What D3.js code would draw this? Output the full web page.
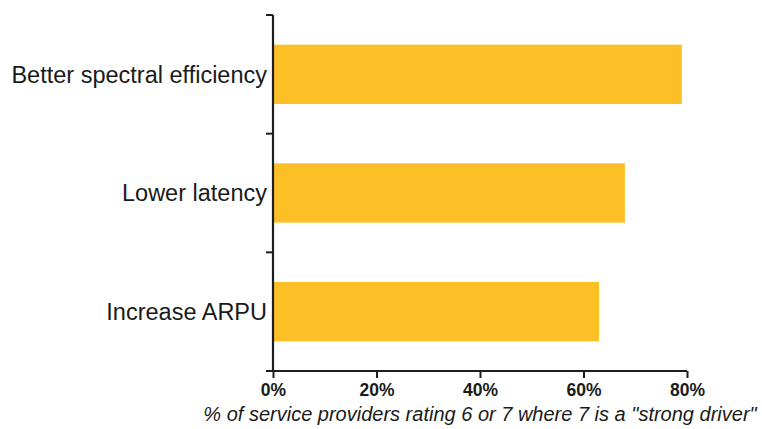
<!DOCTYPE html>
<html>
<head>
<meta charset="utf-8">
<script src="https://cdn.jsdelivr.net/npm/d3@7"></script>
<style>
  html, body { margin: 0; padding: 0; background: #fff; }
  svg { display: block; }
</style>
</head>
<body>
<svg id="chart" width="762" height="429"></svg>
<script>
// Drivers for service providers, share rating 6 or 7
const categories = ["Better spectral efficiency", "Lower latency", "Increase ARPU"];
const values = [79, 68, 63];
const xTicks = [0, 20, 40, 60, 80];
const xTitle = "% of service providers rating 6 or 7 where 7 is a \"strong driver\"";

const svg = d3.select("#chart");
const plot = { left: 273, right: 687, top: 15, bottom: 371 };
const font = "'Liberation Sans', Arial, sans-serif";

const x = d3.scaleLinear().domain([0, 80]).range([plot.left, plot.right]);
const y = d3.scaleBand().domain(categories).range([plot.top, plot.bottom])
  .paddingInner(0.5).paddingOuter(0.25);

// bars
svg.append("g").selectAll("rect")
  .data(categories)
  .join("rect")
  .attr("x", x(0))
  .attr("y", d => y(d))
  .attr("width", (d, i) => x(values[i]) - x(0))
  .attr("height", y.bandwidth())
  .attr("fill", "#FCBF26");

const axisColor = "#1e1e1e";

// x axis
const xAxis = svg.append("g")
  .attr("transform", `translate(0,${plot.bottom})`)
  .call(d3.axisBottom(x).tickValues(xTicks).tickSize(7).tickPadding(6)
    .tickFormat(d => d + "%"));
xAxis.select(".domain").attr("stroke", axisColor).attr("stroke-width", 2.2)
  .attr("d", `M${plot.left},0H${plot.right}`);
xAxis.selectAll(".tick line").attr("stroke", axisColor).attr("stroke-width", 2);
xAxis.selectAll(".tick text")
  .attr("fill", "#1a1a1a")
  .style("font-family", font)
  .style("font-size", "17.5px")
  .style("font-weight", "bold");

// y axis: ticks at band boundaries
const step = y.step();
const boundaries = [0, 1, 2, 3].map(i => plot.top + i * step);
const yAxis = svg.append("g");
yAxis.append("line")
  .attr("x1", plot.left).attr("x2", plot.left)
  .attr("y1", plot.top).attr("y2", plot.bottom)
  .attr("stroke", axisColor).attr("stroke-width", 2.2);
yAxis.selectAll("line.tk")
  .data(boundaries)
  .join("line")
  .attr("class", "tk")
  .attr("x1", plot.left - 7).attr("x2", plot.left)
  .attr("y1", d => d).attr("y2", d => d)
  .attr("stroke", axisColor).attr("stroke-width", 2);

yAxis.selectAll("text")
  .data(categories)
  .join("text")
  .attr("x", plot.left - 6)
  .attr("y", d => y(d) + y.bandwidth() / 2)
  .attr("dy", "0.35em")
  .attr("text-anchor", "end")
  .attr("fill", "#1a1a1a")
  .style("font-family", font)
  .style("font-size", "23.5px")
  .text(d => d);

// x axis title
svg.append("text")
  .attr("x", 480)
  .attr("y", 421)
  .attr("text-anchor", "middle")
  .attr("fill", "#1a1a1a")
  .style("font-family", font)
  .style("font-size", "20px")
  .style("font-style", "italic")
  .text(xTitle);
</script>
</body>
</html>
